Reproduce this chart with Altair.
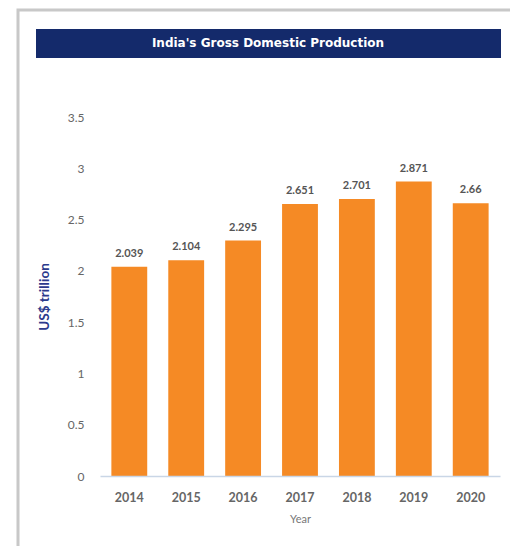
import altair as alt
import pandas as pd

years = ["2014", "2015", "2016", "2017", "2018", "2019", "2020"]
gdp = [2.039, 2.104, 2.295, 2.651, 2.701, 2.871, 2.66]
labels = ["2.039", "2.104", "2.295", "2.651", "2.701", "2.871", "2.66"]
title_text = "India's Gross Domestic Production"

df = pd.DataFrame({"Year": years, "GDP": gdp, "Label": labels})

W, H = 400, 359

x = alt.X("Year:N", sort=years, title="Year",
          scale=alt.Scale(paddingInner=0.37, paddingOuter=0.2),
          axis=alt.Axis(labelAngle=0, labelFont="Lato", labelFontSize=12.5, labelFontWeight="bold",
                        labelColor="#666666", labelPadding=15, ticks=False, zindex=1,
                        domainColor="#c9d6e6", domainWidth=1.5,
                        titleFont="Lato", titleFontSize=11, titleFontWeight="normal",
                        titleColor="#777777", titlePadding=10))
y = alt.Y("GDP:Q", title="US$ trillion",
          scale=alt.Scale(domain=[0, 3.5], nice=False),
          axis=alt.Axis(values=[0, 0.5, 1, 1.5, 2, 2.5, 3, 3.5], format="~g", grid=False,
                        domain=False, ticks=False, labelFont="Lato", labelFontSize=12,
                        labelColor="#666666", labelPadding=16, zindex=1,
                        titleFont="Lato", titleFontSize=13.5, titleFontWeight="bold",
                        titleColor="#2b3a8c", titlePadding=16))

bars = alt.Chart(df).mark_bar(color="#F58A25").encode(x=x, y=y)
text = alt.Chart(df).mark_text(baseline="bottom", dy=-8, font="Lato", fontSize=11,
                               fontWeight="bold", color="#555555").encode(
    x=alt.X("Year:N", sort=years), y="GDP:Q", text="Label:N")

card = alt.Chart(pd.DataFrame({"a": [0]})).mark_rect(
    fillOpacity=0, stroke="#c8c8c8", strokeWidth=3).encode(
    x=alt.value(-82), x2=alt.value(412), y=alt.value(-107), y2=alt.value(445))
band = alt.Chart(pd.DataFrame({"a": [0]})).mark_rect(color="#142a6b").encode(
    x=alt.value(-64), x2=alt.value(401), y=alt.value(-88), y2=alt.value(-59))
title = alt.Chart(pd.DataFrame({"t": [title_text]})).mark_text(
    font="DejaVu Sans", fontSize=12, fontWeight="bold", color="white").encode(
    x=alt.value(168), y=alt.value(-74), text="t:N")

chart = alt.layer(card, band, title, bars, text).properties(
    width=W, height=H,
    autosize=alt.AutoSizeParams(type="none"),
    padding={"left": 92, "top": 109, "right": 10, "bottom": 70},
).configure_view(stroke=None)

chart.save("out.html", embed_options={"renderer": "svg", "actions": False})
